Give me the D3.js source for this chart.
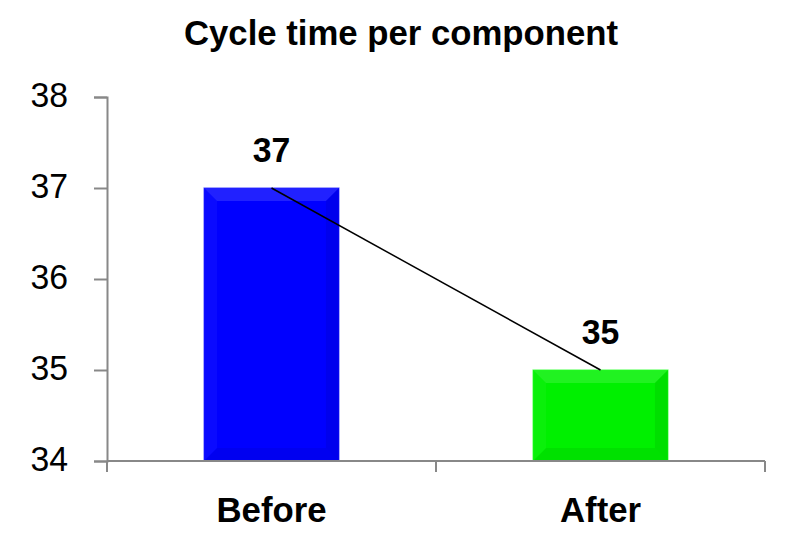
<!DOCTYPE html>
<html><head><meta charset="utf-8">
<script src="https://cdn.jsdelivr.net/npm/d3@7"></script>
<style>
body{margin:0;background:#fff;}
text{font-family:"Liberation Sans",Arial,sans-serif;}
</style></head>
<body><svg id="c" width="787" height="541"></svg>
<script>
const categories = ["Before", "After"];
const values = [37, 35];
const colors = ["#0000ff", "#00f000"];
const yTicks = [34, 35, 36, 37, 38];
const title = "Cycle time per component";

const svg = d3.select("#c");
const m = {left: 107, right: 765, top: 97, bottom: 461};
const SX = 0.965; // horizontal scale of the text
const x = d3.scaleBand().domain(categories).range([m.left, m.right]).paddingInner(0.59).paddingOuter(0.295);
const y = d3.scaleLinear().domain([34, 38]).range([m.bottom, m.top]);

function label(parent, tx, ty, str, size, bold, anchor) {
  return parent.append("text")
    .attr("transform", `translate(${tx},${ty}) scale(${SX},1)`)
    .attr("text-anchor", anchor || "middle")
    .attr("font-size", size).attr("font-weight", bold ? "bold" : "normal")
    .attr("fill", "#000").text(str);
}

label(svg, 401, 45, title, 36, true);

// bars with bevel
const bw = x.bandwidth();
categories.forEach((c, i) => {
  const x0 = x(c), x1 = x0 + bw, y0 = y(values[i]), y1 = y(34);
  const g = svg.append("g");
  g.append("rect").attr("x", x0).attr("y", y0).attr("width", bw).attr("height", y1 - y0)
    .attr("fill", colors[i]).attr("stroke", d3.color(colors[i]).brighter(1.5)).attr("stroke-opacity", 0.6).attr("stroke-width", 1.2);
  const b = 13;
  const top = [[x0,y0],[x1,y0],[x1-b,y0+b],[x0+b,y0+b]];
  const bot = [[x0,y1],[x1,y1],[x1-b,y1-b],[x0+b,y1-b]];
  const lef = [[x0,y0],[x0+b,y0+b],[x0+b,y1-b],[x0,y1]];
  const rig = [[x1,y0],[x1-b,y0+b],[x1-b,y1-b],[x1,y1]];
  g.append("polygon").attr("points", top.join(" ")).attr("fill", "#fff").attr("opacity", 0.13);
  g.append("polygon").attr("points", lef.join(" ")).attr("fill", "#fff").attr("opacity", 0.04);
  g.append("polygon").attr("points", rig.join(" ")).attr("fill", "#000").attr("opacity", 0.07);
  g.append("polygon").attr("points", bot.join(" ")).attr("fill", "#000").attr("opacity", 0.06);
});

// connecting line
const line = d3.line().x((d, i) => x(categories[i]) + bw / 2).y(d => y(d));
svg.append("path").attr("d", line(values)).attr("fill", "none").attr("stroke", "#000").attr("stroke-width", 1.5);

// value labels
categories.forEach((c, i) => {
  label(svg, x(c) + bw / 2, y(values[i]) - 26, values[i], 35, true);
});

// y axis
const ya = svg.append("g").attr("transform", `translate(${m.left},0)`)
  .call(d3.axisLeft(y).tickValues(yTicks).tickSize(13).tickFormat(""));
ya.select(".domain").attr("stroke", "#888").attr("stroke-width", 2);
ya.selectAll(".tick line").attr("stroke", "#888").attr("stroke-width", 2);
yTicks.forEach(t => label(svg, 68, y(t) + 10, d3.format("d")(t), 35, false, "end"));

// x axis
const xa = svg.append("g").attr("transform", `translate(0,${m.bottom})`);
xa.append("line").attr("x1", m.left).attr("x2", m.right).attr("stroke", "#888").attr("stroke-width", 2);
const edges = [m.left, (m.left + m.right) / 2, m.right];
xa.selectAll(".tk").data(edges).join("line").attr("x1", d => d).attr("x2", d => d)
  .attr("y1", 0).attr("y2", 11).attr("stroke", "#888").attr("stroke-width", 2);
categories.forEach(c => label(xa, x(c) + bw / 2, 61, c, 36, true));
</script></body></html>
